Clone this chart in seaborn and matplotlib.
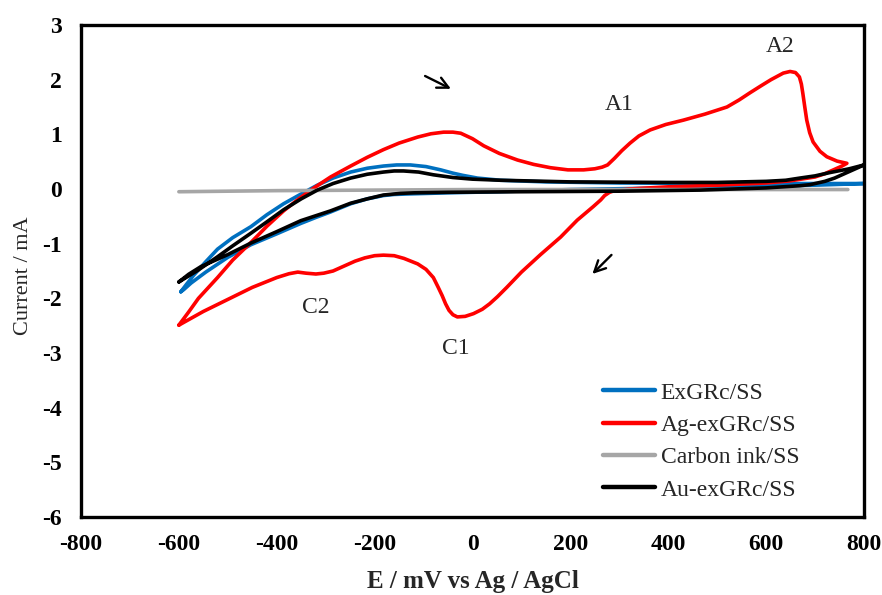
import matplotlib
matplotlib.use("Agg")
import matplotlib.pyplot as plt
import seaborn as sns
import pandas as pd

# ---------------- data ----------------
series_names = ["ExGRc/SS", "Ag-exGRc/SS", "Carbon ink/SS", "Au-exGRc/SS"]
series_colors = ["#0070C0", "#FF0000", "#A6A6A6", "#000000"]

# ExGRc/SS (blue) : forward (anodic) then reverse scan
exgrc_E = [-596, -585, -570, -545, -521, -490, -453, -420, -386, -350, -317, -285, -249, -215, -182, -155, -127, -95, -65, -40,
           -20, 10, 57, 150, 300, 500, 700, 800,
           700, 600, 400, 200, 51, -50, -130, -160, -182, -215, -249, -290, -320, -351, -400, -453, -500, -545, -575, -590, -596]
exgrc_I = [-1.88, -1.75, -1.58, -1.33, -1.10, -0.89, -0.69, -0.47, -0.27, -0.09, 0.07, 0.20, 0.31, 0.38, 0.42, 0.44, 0.44, 0.41, 0.35, 0.29,
           0.25, 0.20, 0.16, 0.13, 0.11, 0.10, 0.10, 0.10,
           0.07, 0.05, 0.02, -0.01, -0.05, -0.07, -0.09, -0.10, -0.12, -0.18, -0.27, -0.42, -0.52, -0.63, -0.82, -1.02, -1.25, -1.52, -1.72, -1.84, -1.88]

# Ag-exGRc/SS (red)
ag_E = [-600, -580, -560, -521, -490, -453, -420, -386, -355, -324, -290, -249, -215, -182, -150, -112, -85, -59, -40, -24,
        0, 23, 55, 92, 125, 159, 195, 227, 250, 265, 276, 290, 305, 322, 340, 363, 395, 431, 475, 520,
        545, 567, 590, 610, 635, 649, 660, 668, 672, 675, 679, 683, 689, 696, 710, 724, 745, 765,
        755, 740, 720, 700, 650, 600, 500, 400, 320, 290, 280, 270, 262, 247, 214, 180, 139, 100, 70, 51, 35, 20, 2, -15, -31,
        -40, -48, -55, -62, -70, -80, -95, -112, -140, -160, -182, -200, -220, -240, -260, -285, -304, -320, -340, -357, -375,
        -400, -450, -500, -550, -600]
ag_I = [-2.49, -2.25, -2.00, -1.62, -1.30, -0.98, -0.68, -0.40, -0.18, 0.02, 0.22, 0.42, 0.58, 0.72, 0.84, 0.95, 1.01, 1.04, 1.04, 1.02,
        0.92, 0.79, 0.65, 0.53, 0.45, 0.39, 0.35, 0.35, 0.37, 0.40, 0.44, 0.56, 0.70, 0.84, 0.97, 1.08, 1.18, 1.26, 1.37, 1.50,
        1.63, 1.76, 1.89, 2.00, 2.12, 2.15, 2.13, 2.05, 1.92, 1.75, 1.50, 1.26, 1.03, 0.86, 0.69, 0.59, 0.51, 0.47,
        0.42, 0.36, 0.28, 0.22, 0.15, 0.11, 0.07, 0.04, 0.00, -0.03, -0.06, -0.12, -0.20, -0.32, -0.57, -0.88, -1.20, -1.52, -1.80, -1.97, -2.10, -2.20, -2.28, -2.33, -2.34,
        -2.30, -2.22, -2.10, -1.95, -1.80, -1.62, -1.47, -1.37, -1.27, -1.22, -1.21, -1.22, -1.26, -1.32, -1.40, -1.50, -1.54, -1.555, -1.54, -1.52, -1.55,
        -1.62, -1.80, -2.02, -2.24, -2.49]

# Carbon ink/SS (grey)
carbon_E = [-600, -400, -200, 0, 200, 400, 600, 767]
carbon_I = [-0.05, -0.03, -0.02, -0.01, -0.01, -0.01, -0.01, -0.01]

# Au-exGRc/SS (black)
au_E = [-600, -580, -560, -521, -490, -453, -420, -386, -350, -317, -285, -249, -215, -182, -160, -141, -110, -80, -40, 0,
        57, 200, 400, 500, 600, 640, 669, 700, 730, 770, 800,
        780, 760, 740, 720, 690, 669, 600, 465, 300, 100, -50, -120, -147, -182, -215, -249, -290, -351, -400, -453, -500,
        -555, -580, -600]
au_I = [-1.70, -1.59, -1.48, -1.24, -1.04, -0.81, -0.60, -0.38, -0.18, -0.02, 0.10, 0.20, 0.27, 0.31, 0.33, 0.33, 0.31, 0.26, 0.21, 0.18,
        0.16, 0.13, 0.12, 0.12, 0.14, 0.16, 0.20, 0.24, 0.30, 0.37, 0.44,
        0.36, 0.28, 0.20, 0.14, 0.08, 0.06, 0.02, -0.02, -0.04, -0.05, -0.06, -0.07, -0.08, -0.11, -0.18, -0.26, -0.40, -0.58, -0.78, -0.99, -1.20,
        -1.42, -1.56, -1.70]

x_ticks = [-800, -600, -400, -200, 0, 200, 400, 600, 800]
y_ticks = [-6, -5, -4, -3, -2, -1, 0, 1, 2, 3]

peak_labels = ["A1", "A2", "C1", "C2"]
peak_E = [300, 629, -35, -320]
peak_I = [1.55, 2.6, -2.92, -2.17]

# ---------------- build table ----------------
frames = []
for name, E, I in zip(series_names, [exgrc_E, ag_E, carbon_E, au_E], [exgrc_I, ag_I, carbon_I, au_I]):
    frames.append(pd.DataFrame({"E": E, "I": I, "series": name}))
df = pd.concat(frames, ignore_index=True)

# ---------------- style ----------------
sns.set_style("white")
plt.rcParams["font.family"] = ["Liberation Serif", "DejaVu Serif"]

fig = plt.figure(figsize=(8.82, 5.95), dpi=100)
ax = fig.add_axes([81 / 882, 1 - 517 / 595, 783 / 882, 492 / 595])

sns.lineplot(data=df, x="E", y="I", hue="series", hue_order=series_names,
             palette=dict(zip(series_names, series_colors)),
             sort=False, estimator=None, linewidth=2.6, ax=ax)
for ln in ax.get_lines():
    ln.set_solid_joinstyle("round")
    ln.set_solid_capstyle("round")

ax.set_xlim(-800, 800)
ax.set_ylim(-6, 3)
ax.set_xticks(x_ticks)
ax.set_yticks(y_ticks)
ax.set_xticklabels([str(v) for v in x_ticks], fontsize=17, fontweight="bold")
ax.set_yticklabels([str(v) for v in y_ticks], fontsize=17, fontweight="bold")
ax.tick_params(axis="x", direction="in", length=6, width=1.3, pad=12, colors="black")
ax.tick_params(axis="y", direction="in", length=6, width=1.3, pad=14, colors="black")
for sp in ax.spines.values():
    sp.set_visible(True)
    sp.set_linewidth(2.4)
    sp.set_color("black")

ax.set_xlabel("E / mV vs Ag / AgCl", fontsize=18, fontweight="bold")
ax.set_ylabel("Current / mA", fontsize=16)
ax.xaxis.set_label_coords(0.5, -0.108)
ax.yaxis.set_label_coords(-0.061, 0.49)

for lab, e, i in zip(peak_labels, peak_E, peak_I):
    ax.text(e, i, lab, fontsize=17, ha="center", va="center")

ax.annotate("", xy=(-39, 1.81), xytext=(-102, 2.09),
            arrowprops=dict(arrowstyle="->", lw=1.7, color="black", mutation_scale=20))
ax.annotate("", xy=(241, -1.59), xytext=(288, -1.17),
            arrowprops=dict(arrowstyle="->", lw=1.7, color="black", mutation_scale=20))

leg = ax.legend(loc="upper left", bbox_to_anchor=(603 / 882, 1 - 382 / 595),
                bbox_transform=fig.transFigure, frameon=False, fontsize=17,
                borderpad=0, borderaxespad=0, handlelength=2.2, handletextpad=0.25,
                labelspacing=0.46, title=None)
for line in leg.get_lines():
    line.set_linewidth(3.2)

fig.savefig("out.png", dpi=100)
